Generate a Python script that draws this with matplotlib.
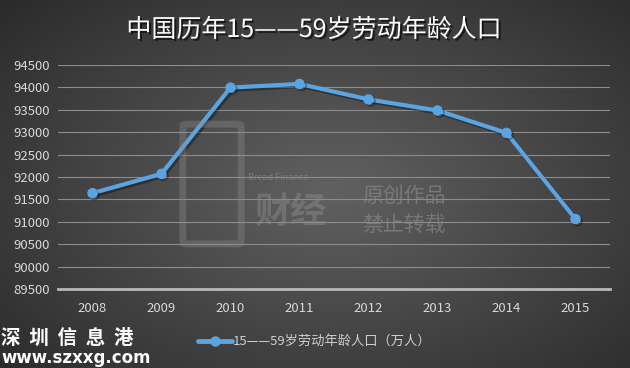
import numpy as np
import matplotlib
matplotlib.use("Agg")
import matplotlib.pyplot as plt
import matplotlib.patheffects as pe
from matplotlib.patches import FancyBboxPatch

plt.rcParams['font.family'] = ['Noto Sans CJK SC', 'DejaVu Sans']

# data
years = ['2008', '2009', '2010', '2011', '2012', '2013', '2014', '2015']
population = [91640, 92070, 93990, 94072, 93727, 93480, 92982, 91064]
y_ticks = [89500, 90000, 90500, 91000, 91500, 92000, 92500, 93000, 93500, 94000, 94500]
title = '中国历年15——59岁劳动年龄人口'
series_label = '15——59岁劳动年龄人口（万人）'

line_color = '#5ba4e2'
tick_color = '#d8d8d8'

fig = plt.figure(figsize=(6.3, 3.68), dpi=100)

# background radial gradient
bg = fig.add_axes([0, 0, 1, 1], zorder=-10)
yy, xx = np.mgrid[0:368, 0:630]
r = np.sqrt(((xx - 330) / 420.0) ** 2 + ((yy - 190) / 260.0) ** 2)
shade = np.clip(0.38 - 0.20 * r, 0.14, 0.38)
bg.imshow(np.dstack([shade, shade, shade]), aspect='auto', extent=[0, 1, 0, 1])
bg.set_xlim(0, 1)
bg.set_ylim(0, 1)
bg.axis('off')

ax = fig.add_axes([58 / 630, 1 - 289.3 / 368, 552 / 630, 224.6 / 368])
ax.patch.set_alpha(0)
x = np.arange(len(years))
ax.plot(x, population, color=line_color, lw=3, marker='o', ms=6.5,
        solid_capstyle='round', zorder=5,
        path_effects=[pe.SimpleLineShadow(offset=(1.5, -1.5), shadow_color='black', alpha=0.35), pe.Normal()])

ax.set_xlim(-0.5, len(years) - 0.5)
ax.set_ylim(89500, 94500)
ax.set_yticks(y_ticks)
ax.set_xticks(x)
ax.set_xticklabels(years)
ax.grid(axis='y', color='#8c8c8c', lw=0.8)
ax.set_axisbelow(True)
for s in ['top', 'right', 'left']:
    ax.spines[s].set_visible(False)
ax.spines['bottom'].set_color('#b8b8b8')
ax.spines['bottom'].set_linewidth(2)
ax.tick_params(axis='both', length=0, colors=tick_color, labelsize=9.5)
ax.tick_params(axis='x', pad=9)
ax.tick_params(axis='y', pad=6)

# title
fig.text(314 / 630, 1 - 30 / 368, title, ha='center', va='center', color='white',
         fontsize=18,
         path_effects=[pe.withSimplePatchShadow(offset=(1.5, -1.5), shadow_rgbFace='black', alpha=0.6)])

# legend
fig.lines.append(plt.Line2D([198 / 630, 232 / 630], [1 - 341 / 368] * 2, transform=fig.transFigure,
                            color=line_color, lw=3.5, solid_capstyle='round'))
fig.lines.append(plt.Line2D([215 / 630], [1 - 341 / 368], transform=fig.transFigure,
                            color=line_color, marker='o', ms=6.5, lw=0))
fig.text(233 / 630, 1 - 341 / 368, series_label, ha='left', va='center', color='#cfcfcf', fontsize=9.5)

# watermarks
wm = '#8e8e8e'
fig.patches.append(FancyBboxPatch((186 / 630, 1 - 242 / 368), 52 / 630, 116 / 368,
                                  boxstyle='round,pad=0.005', transform=fig.transFigure,
                                  fill=False, ec=wm, lw=5, alpha=0.35))
fig.text(248 / 630, 1 - 178 / 368, 'Bread Finance', color=wm, fontsize=6.5, va='center', alpha=0.6)
fig.text(290 / 630, 1 - 212 / 368, '财经', color=wm, fontsize=26, ha='center', va='center',
         alpha=0.45, fontweight='bold')
fig.text(404 / 630, 1 - 196 / 368, '原创作品', color=wm, fontsize=15, ha='center', va='center', alpha=0.6)
fig.text(404 / 630, 1 - 225 / 368, '禁止转载', color=wm, fontsize=15, ha='center', va='center', alpha=0.6)

# site logo
fig.text(1 / 630, 1 - 338 / 368, '深  圳  信  息  港', color='white', fontsize=14, va='center',
         fontweight='bold')
fig.text(1 / 630, 1 - 358 / 368, 'www.szxxg.com', color='white', fontsize=12, va='center',
         fontweight='bold', family='DejaVu Sans')

fig.savefig('out.png', dpi=100)
